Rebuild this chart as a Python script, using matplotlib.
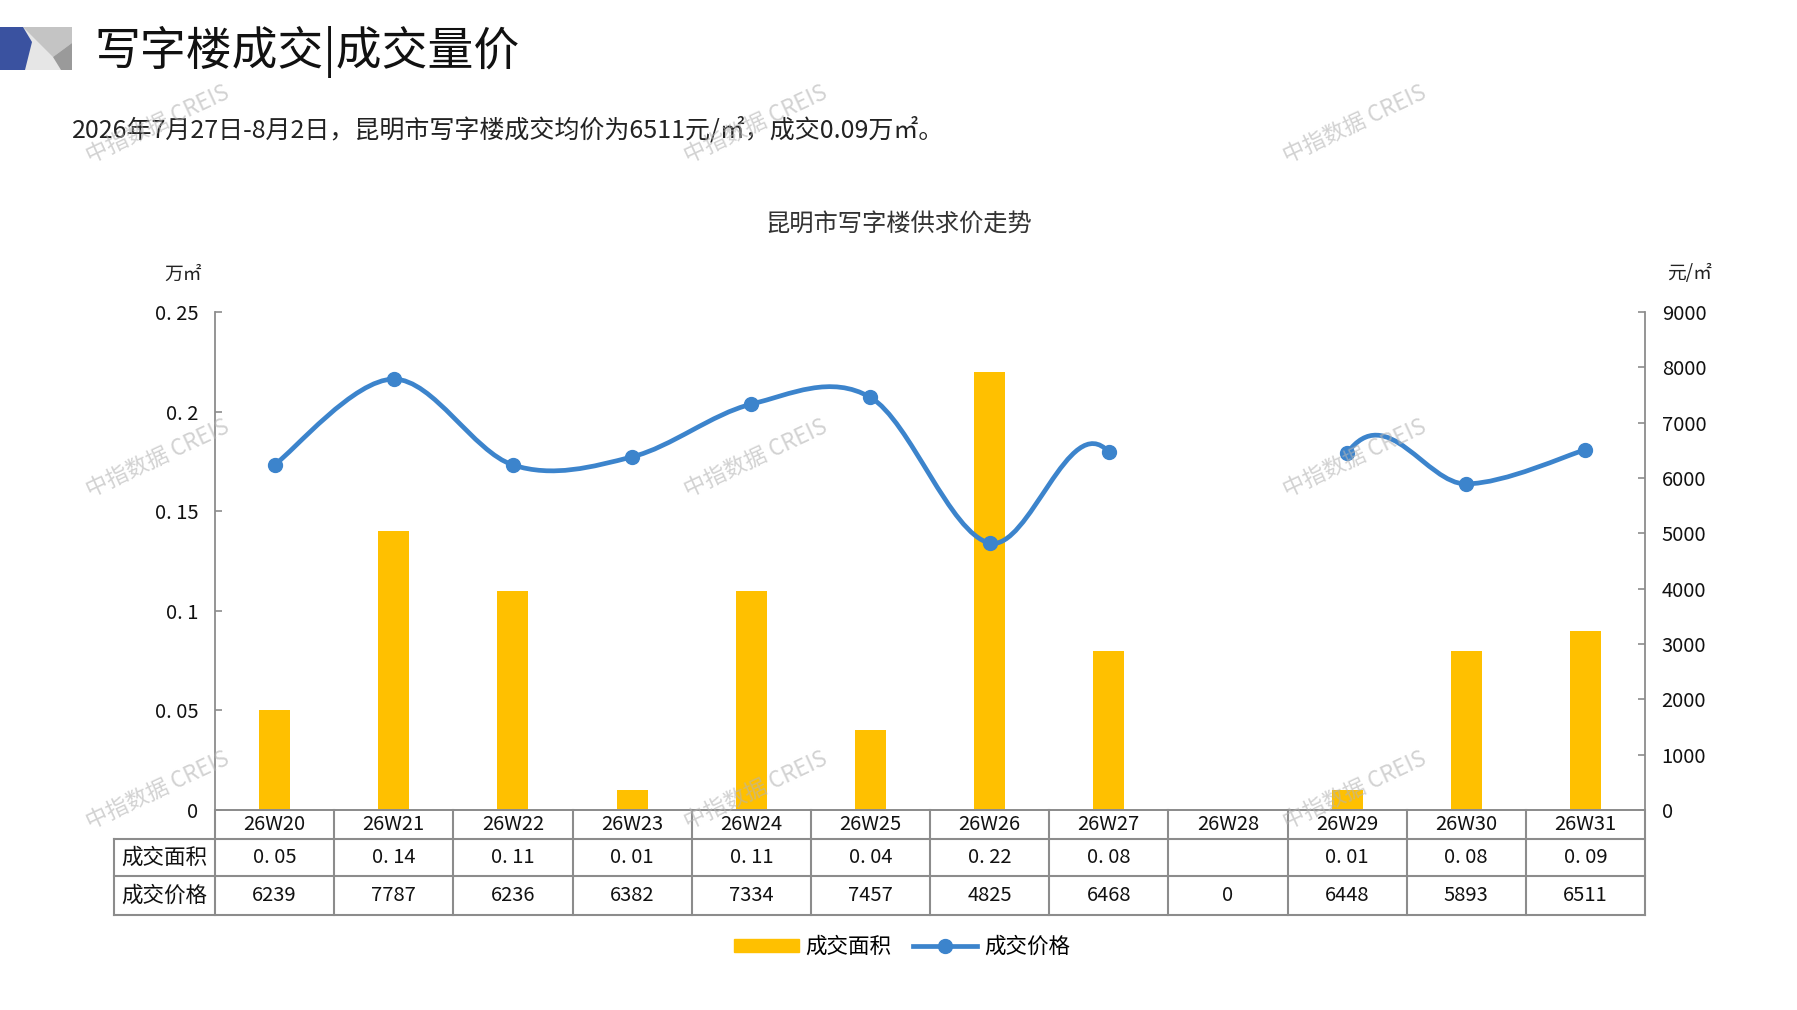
import matplotlib
matplotlib.use("Agg")
import matplotlib.pyplot as plt
import numpy as np
from matplotlib.path import Path
from matplotlib.patches import PathPatch, Polygon, Patch
from matplotlib.lines import Line2D
from matplotlib.transforms import blended_transform_factory

plt.rcParams['font.family'] = ['Noto Sans CJK SC', 'DejaVu Sans']

W, H = 1797, 1010

weeks = ["26W20", "26W21", "26W22", "26W23", "26W24", "26W25",
         "26W26", "26W27", "26W28", "26W29", "26W30", "26W31"]
area = [0.05, 0.14, 0.11, 0.01, 0.11, 0.04, 0.22, 0.08, None, 0.01, 0.08, 0.09]
price = [6239, 7787, 6236, 6382, 7334, 7457, 4825, 6468, 0, 6448, 5893, 6511]
left_ticks = [0, 0.05, 0.1, 0.15, 0.2, 0.25]
left_tick_labels = ["0", "0. 05", "0. 1", "0. 15", "0. 2", "0. 25"]
right_ticks = [0, 1000, 2000, 3000, 4000, 5000, 6000, 7000, 8000, 9000]

BAR = "#FFC000"
LINE = "#3C84CC"
GRID = "#8c8c8c"


def fx(px):
    return px / W


def fy(py):
    return 1 - py / H


fig = plt.figure(figsize=(W / 100, H / 100), dpi=100)

# header icon
fig.patches.append(Polygon([(fx(0), fy(27)), (fx(72), fy(27)), (fx(72), fy(70)), (fx(0), fy(70))],
                           closed=True, transform=fig.transFigure, color="#e6e6e6", lw=0))
fig.patches.append(Polygon([(fx(23), fy(27)), (fx(72), fy(27)), (fx(72), fy(43)), (fx(53), fy(57))],
                           closed=True, transform=fig.transFigure, color="#c4c4c4", lw=0))
fig.patches.append(Polygon([(fx(53), fy(57)), (fx(72), fy(43)), (fx(72), fy(70)), (fx(61), fy(70))],
                           closed=True, transform=fig.transFigure, color="#9a9a9a", lw=0))
fig.patches.append(Polygon([(fx(0), fy(27)), (fx(23), fy(27)), (fx(32), fy(42)), (fx(25), fy(70)), (fx(0), fy(70))],
                           closed=True, transform=fig.transFigure, color="#3a52a0", lw=0))

fig.text(fx(94), fy(52), "写字楼成交|成交量价", fontsize=33, va="center", ha="left", color="#111111")
fig.text(fx(72), fy(130), "2026年7月27日-8月2日，昆明市写字楼成交均价为6511元/㎡，成交0.09万㎡。",
         fontsize=18, va="center", ha="left", color="#222222")
fig.text(fx(899), fy(225), "昆明市写字楼供求价走势", fontsize=17.5, va="center", ha="center", color="#333333")

ax_l, ax_r, ax_t, ax_b = 215, 1645, 312, 810
ax = fig.add_axes([fx(ax_l), fy(ax_b), fx(ax_r - ax_l), (ax_b - ax_t) / H])
ax2 = ax.twinx()

x = np.arange(len(weeks))
bar_vals = [v if v is not None else 0 for v in area]
ax.bar(x, bar_vals, width=0.26, color=BAR, zorder=2)
ax.set_xlim(-0.5, len(weeks) - 0.5)
ax.set_ylim(0, 0.25)
ax2.set_ylim(0, 9000)

ax.set_yticks(left_ticks)
ax.set_yticklabels(left_tick_labels)
ax2.set_yticks(right_ticks)
ax.set_xticks([])
for a in (ax, ax2):
    a.spines["top"].set_visible(False)
    for s in ("left", "right", "bottom"):
        a.spines[s].set_color(GRID)
        a.spines[s].set_linewidth(1.3)
    a.tick_params(axis="y", direction="in", length=5, width=1.2, color=GRID,
                  labelsize=14.5, labelcolor="#111111", pad=12)
ax.spines["right"].set_visible(False)
ax2.spines["left"].set_visible(False)

# smoothed price line (segments touching the zero week are hidden)
pts = np.column_stack([x, price]).astype(float)
n = len(pts)
verts, codes = [], []
for i in range(n - 1):
    if price[i] == 0 or price[i + 1] == 0:
        continue
    p0 = pts[max(i - 1, 0)]
    p1 = pts[i]
    p2 = pts[i + 1]
    p3 = pts[min(i + 2, n - 1)]
    c1 = p1 + (p2 - p0) / 6
    c2 = p2 - (p3 - p1) / 6
    if not verts or not np.allclose(verts[-1], p1):
        verts.append(p1)
        codes.append(Path.MOVETO)
    verts += [c1, c2, p2]
    codes += [Path.CURVE4] * 3
ax2.add_patch(PathPatch(Path(verts, codes), facecolor="none", edgecolor=LINE,
                        lw=3.4, capstyle="round", joinstyle="round", zorder=3))
mx = [i for i in x if price[i] != 0]
ax2.plot(mx, [price[i] for i in mx], "o", color=LINE, ms=10, zorder=4)

# units
fig.text(fx(183), fy(274), "万㎡", fontsize=13.5, ha="center", va="center", color="#222222")
fig.text(fx(1690), fy(274), "元/㎡", fontsize=13.5, ha="center", va="center", color="#222222")

# data table below the axis
tr = blended_transform_factory(ax.transData, fig.transFigure)
y0, y1, y2, y3 = fy(810), fy(839), fy(876), fy(915)
tbl_left = fx(114)
line_kw = dict(color=GRID, lw=1.5, clip_on=False)
for b in np.arange(-0.5, len(weeks), 1.0):
    ax.add_line(Line2D([b, b], [y0, y3], transform=tr, **line_kw))
for yy in (y1, y2, y3):
    fig.add_artist(Line2D([tbl_left, fx(ax_r)], [yy, yy], transform=fig.transFigure, color=GRID, lw=1.5))
fig.add_artist(Line2D([tbl_left, tbl_left], [y1, y3], transform=fig.transFigure, color=GRID, lw=1.5))

area_labels = ["" if v is None else f"{v:.2f}".replace(".", ". ") for v in area]
for i, w in enumerate(weeks):
    ax.text(i, (y0 + y1) / 2, w, transform=tr, ha="center", va="center", fontsize=14.5, color="#111111")
    ax.text(i, (y1 + y2) / 2, area_labels[i], transform=tr, ha="center", va="center", fontsize=14.5, color="#111111")
    ax.text(i, (y2 + y3) / 2, str(price[i]), transform=tr, ha="center", va="center", fontsize=14.5, color="#111111")
lab_x = (114 + ax_l) / 2
fig.text(fx(lab_x), (y1 + y2) / 2, "成交面积", ha="center", va="center", fontsize=15.5, color="#111111")
fig.text(fx(lab_x), (y2 + y3) / 2, "成交价格", ha="center", va="center", fontsize=15.5, color="#111111")

# legend
handles = [Patch(color=BAR, label="成交面积"),
           Line2D([], [], color=LINE, lw=3.4, marker="o", ms=10, label="成交价格")]
fig.legend(handles=handles, loc="center", bbox_to_anchor=(fx(902), fy(947)), ncol=2, frameon=False,
           fontsize=15.5, handlelength=3.0, handleheight=0.6, columnspacing=1.0, handletextpad=0.3)

# watermarks
for wx in (158, 756, 1355):
    for wy in (124, 458, 790):
        fig.text(fx(wx), fy(wy), "中指数据 CREIS", fontsize=16, rotation=25, ha="center", va="center",
                 color="#b4b4b4", alpha=0.6, zorder=10)

fig.savefig("out.png", dpi=100)
